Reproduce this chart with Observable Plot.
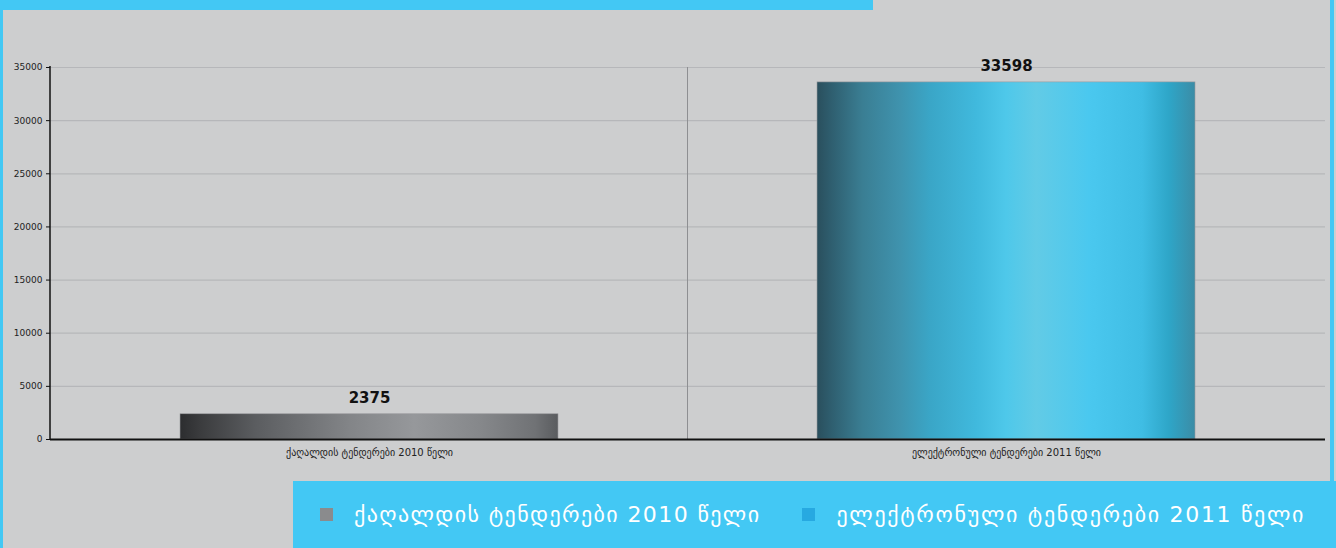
<!DOCTYPE html>
<html>
<head>
<meta charset="utf-8">
<script src="https://cdn.jsdelivr.net/npm/d3@7"></script>
<script src="https://cdn.jsdelivr.net/npm/@observablehq/plot@0.6"></script>
<style>
  html, body { margin: 0; padding: 0; }
  #wrap { position: relative; width: 1336px; height: 548px; background: #cdcecf; overflow: hidden; font-family: "DejaVu Sans", sans-serif; }
  #topbar { position: absolute; left: 0; top: 0; width: 873px; height: 10px; background: #43c8f4; }
  #leftbar { position: absolute; left: 0; top: 0; width: 3px; height: 548px; background: #43c8f4; }
  #rightbar { position: absolute; right: 2px; top: 0; width: 4px; height: 548px; background: #43c8f4; }
  #chart { position: absolute; left: 0; top: 0; }
  #legend { position: absolute; left: 293px; top: 481px; width: 1043px; height: 67px; background: #43c8f4; display: flex; align-items: center; }
  .item { display: flex; align-items: center; color: #ffffff; font-size: 22px; letter-spacing: 1.4px; white-space: nowrap; }
  .sw { width: 13px; height: 13px; margin-right: 21px; }
</style>
</head>
<body>
<div id="wrap">
  <div id="topbar"></div>
  <div id="leftbar"></div>
  <div id="rightbar"></div>
  <div id="chart"></div>
  <div id="legend"></div>
</div>
<script>
const categories = ["ქაღალდის ტენდერები 2010 წელი", "ელექტრონული ტენდერები 2011 წელი"];
const values = [2375, 33598];
const yTicks = [0, 5000, 10000, 15000, 20000, 25000, 30000, 35000];
const legendColors = ["#8a8b8d", "#27a9e1"];
const barFills = ["url(#gradGray)", "url(#gradBlue)"];

const data = categories.map((c, i) => ({category: c, value: values[i], fill: barFills[i]}));

// custom mark: left axis line and the category divider, positioned from the scales
function axisLines(index, scales, values, dim) {
  const x0 = dim.marginLeft;
  const x1 = dim.width - dim.marginRight;
  const yTop = scales.y(yTicks[yTicks.length - 1]);
  const yBot = scales.y(0);
  const g = d3.create("svg:g");
  g.append("line").attr("x1", (x0 + x1) / 2).attr("x2", (x0 + x1) / 2).attr("y1", yTop).attr("y2", yBot)
    .attr("stroke", "#8e8f92").attr("stroke-width", 1);
  g.append("line").attr("x1", x0).attr("x2", x0).attr("y1", yTop - 1).attr("y2", yBot)
    .attr("stroke", "#111").attr("stroke-width", 1.5);
  return g.node();
}

const chart = Plot.plot({
  width: 1336,
  height: 470,
  marginLeft: 50,
  marginRight: 11,
  marginTop: 67,
  marginBottom: 31,
  style: {background: "transparent", fontFamily: "DejaVu Sans, sans-serif", color: "#222"},
  x: {domain: categories, paddingInner: 0.407, paddingOuter: 0.204, label: null},
  y: {domain: [0, 35000], label: null},
  color: {type: "identity"},
  marks: [
    Plot.gridY(yTicks, {stroke: "#b6b7ba", strokeOpacity: 1, strokeWidth: 1.2}),
    axisLines,
    Plot.rectY(data, {x: "category", y: "value", fill: "fill", stroke: "#9a9b9e", strokeWidth: 0.6}),
    Plot.text(data, {x: "category", y: "value", text: d => String(d.value), dy: -16, fontSize: 15, fontWeight: "bold", fill: "#111"}),
    Plot.axisY({ticks: yTicks, tickFormat: d => String(d), tickSize: 4, tickPadding: 4, fontSize: 9, label: null, stroke: "#111"}),
    Plot.axisX({tickSize: 0, tickPadding: 9, fontSize: 10, label: null}),
    Plot.ruleY([0], {stroke: "#111", strokeWidth: 2})
  ]
});

const svg = d3.select(chart);
const defs = svg.insert("defs", ":first-child");
const g1 = defs.append("linearGradient").attr("id", "gradGray").attr("x1", 0).attr("x2", 1).attr("y1", 0).attr("y2", 0);
[[0, "#2c2d2f"], [0.05, "#3a3b3d"], [0.2, "#5b5d60"], [0.45, "#838588"], [0.62, "#96989b"], [0.8, "#85878a"], [0.94, "#707275"], [1, "#5a5c5f"]]
  .forEach(([o, c]) => g1.append("stop").attr("offset", o).attr("stop-color", c));
const g2 = defs.append("linearGradient").attr("id", "gradBlue").attr("x1", 0).attr("x2", 1).attr("y1", 0).attr("y2", 0);
[[0, "#2a4f5d"], [0.04, "#2f5f70"], [0.12, "#3a7e93"], [0.22, "#3f93ae"], [0.3, "#3aa6c7"], [0.42, "#40b9dd"], [0.5, "#4ec8ea"], [0.58, "#62cbe6"], [0.72, "#4ac8ef"], [0.86, "#3fbde4"], [0.93, "#2ea6c8"], [1, "#3b8ca6"]]
  .forEach(([o, c]) => g2.append("stop").attr("offset", o).attr("stop-color", c));

document.getElementById("chart").appendChild(chart);

const legend = document.getElementById("legend");
categories.forEach((c, i) => {
  const item = document.createElement("div");
  item.className = "item";
  item.style.marginLeft = i === 0 ? "27px" : "42px";
  if (i === 1) item.style.letterSpacing = "1.7px";
  const sw = document.createElement("div");
  sw.className = "sw";
  sw.style.background = legendColors[i];
  const t = document.createElement("span");
  t.textContent = c;
  item.appendChild(sw);
  item.appendChild(t);
  legend.appendChild(item);
});
</script>
</body>
</html>
